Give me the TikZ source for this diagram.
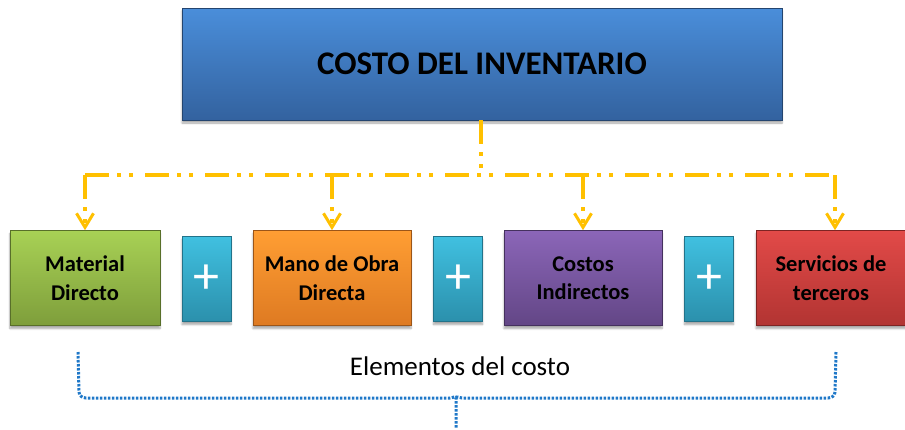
\documentclass[tikz,border=0pt]{standalone}
\usepackage{fontspec}
\setmainfont{Carlito}
\usetikzlibrary{arrows.meta,shadows.blur}
\definecolor{lineor}{HTML}{FFC000}
\definecolor{brblue}{HTML}{1F78C8}
\tikzset{
  box/.style={draw=#1!70!black, line width=0.6pt, minimum height=95pt, align=center,
    font=\fontsize{22.5}{28.5}\selectfont\bfseries, text=black,
    blur shadow={shadow xshift=0pt, shadow yshift=-3pt, shadow blur steps=6, shadow opacity=35}},
  plusbox/.style={draw=plusB!80!black, line width=0.6pt, minimum width=49pt, minimum height=85pt,
    top color=plusT, bottom color=plusB, text=white, font=\fontsize{52}{52}\selectfont,
    blur shadow={shadow xshift=0pt, shadow yshift=-3pt, shadow blur steps=6, shadow opacity=35}},
  conn/.style={draw=lineor, line width=3.5pt, dash pattern=on 24pt off 8pt on 4pt off 8pt on 4pt off 12pt},
  connar/.style={conn, -{Straight Barb[length=14pt,width=17pt,line width=3pt]}},
  brace/.style={draw=brblue, line width=3pt, dash pattern=on 2.5pt off 1.5pt}
}
\definecolor{topT}{HTML}{4A8EDA}
\definecolor{topB}{HTML}{33629F}
\definecolor{grT}{HTML}{A8D155}
\definecolor{grB}{HTML}{7E9E3B}
\definecolor{orT}{HTML}{FF9E33}
\definecolor{orB}{HTML}{DE7A22}
\definecolor{puT}{HTML}{8B66B8}
\definecolor{puB}{HTML}{634686}
\definecolor{reT}{HTML}{E24A48}
\definecolor{reB}{HTML}{B23432}
\definecolor{plusT}{HTML}{40C0E0}
\definecolor{plusB}{HTML}{2B90AC}
\begin{document}
\begin{tikzpicture}[x=1pt,y=-1pt]
\useasboundingbox (0,0) rectangle (905,429);
\clip (0,0) rectangle (905,429);
\node[box=topB, minimum width=600pt, minimum height=112pt, top color=topT, bottom color=topB,
  font=\fontsize{33}{36}\selectfont\bfseries] (top) at (482,64) {COSTO DEL INVENTARIO};
\node[box=grB, minimum width=150pt, top color=grT, bottom color=grB] (mat) at (85,278) {Material\\Directo};
\node[box=orB, minimum width=158pt, top color=orT, bottom color=orB] (mano) at (332,278) {Mano de Obra\\Directa};
\node[box=puB, minimum width=158pt, top color=puT, bottom color=puB] (ci) at (583,278) {Costos\\Indirectos};
\node[box=reB, minimum width=150pt, top color=reT, bottom color=reB] (serv) at (831,278) {Servicios de\\terceros};
\node[plusbox] (p1) at (206.5,279) {+};
\node[plusbox] (p2) at (458,279) {+};
\node[plusbox] (p3) at (709,279) {+};
% connectors
\coordinate (hub) at (481,175);
\coordinate (hl) at (85,175);
\coordinate (hr) at (835,175);
\draw[conn] (top.south -| hub) -- (hub);
\draw[conn] (hl) -- (hr);
\draw[connar] (hl) -- (mat.north);
\draw[connar] (mano.north |- hub) -- (mano.north);
\draw[connar] (ci.north |- hub) -- (ci.north);
\draw[connar] (hr) -- (hr |- serv.north);
% brace
\node[font=\fontsize{27}{30}\selectfont] (lab) at (460,366) {Elementos del costo};
\coordinate (bl) at (78,352);
\coordinate (br) at (836,352);
\coordinate (bm) at (456,398);
\coordinate (bt) at (456,429);
\draw[brace] (bl) -- (79,392) to[out=-90,in=180] (86,398) -- (450,398) to[out=0,in=90] (bm) -- (bt);
\draw[brace] (br) -- (835,392) to[out=-90,in=0] (828,398) -- (462,398) to[out=180,in=90] (bm);
\end{tikzpicture}
\end{document}
